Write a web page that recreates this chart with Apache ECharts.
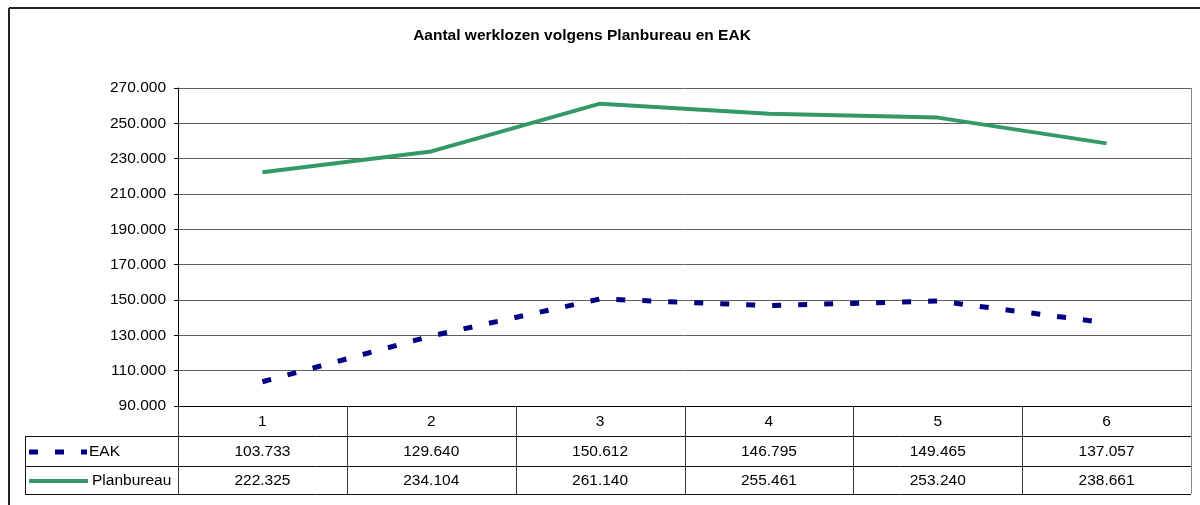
<!DOCTYPE html>
<html>
<head>
<meta charset="utf-8">
<script src="https://cdn.jsdelivr.net/npm/echarts@6/dist/echarts.min.js"></script>
<style>
  html, body { margin: 0; padding: 0; background: #fff; }
  #chart { width: 1200px; height: 505px; }
</style>
</head>
<body>
<div id="chart"></div>
<script>
// data
const categories = ["1", "2", "3", "4", "5", "6"];
const eak = [103733, 129640, 150612, 146795, 149465, 137057];
const planbureau = [222325, 234104, 261140, 255461, 253240, 238661];

const FONT = "Liberation Sans, Arial, sans-serif";
const FS = 15.5;
const fmt = v => {
  let s = String(Math.round(v));
  return s.replace(/\B(?=(\d{3})+(?!\d))/g, ".");
};

// layout of plot + data table
const gridL = 178, gridR = 1191, gridT = 88, gridB = 406;
const rowH = [406, 436, 466, 494];
const tableL = 25;

const chart = echarts.init(document.getElementById("chart"));

const graphics = [];
// outer chart border (left + top)
graphics.push({ type: "line", shape: { x1: 9, y1: 8, x2: 1200, y2: 8 }, style: { stroke: "#222", lineWidth: 2 } });
graphics.push({ type: "line", shape: { x1: 9, y1: 8, x2: 9, y2: 505 }, style: { stroke: "#222", lineWidth: 2 } });
// plot area right border
graphics.push({ type: "line", shape: { x1: gridR + 0.5, y1: gridT, x2: gridR + 0.5, y2: rowH[3] }, style: { stroke: "#888", lineWidth: 1 } });
// table horizontal lines
for (let i = 1; i < rowH.length; i++) {
  graphics.push({ type: "line", shape: { x1: tableL, y1: rowH[i] + 0.5, x2: gridR, y2: rowH[i] + 0.5 }, style: { stroke: "#111", lineWidth: 1 } });
}
graphics.push({ type: "line", shape: { x1: tableL + 0.5, y1: rowH[1], x2: tableL + 0.5, y2: rowH[3] }, style: { stroke: "#111", lineWidth: 1 } });
// column dividers
const colW = (gridR - gridL) / categories.length;
for (let i = 0; i < categories.length; i++) {
  const x = Math.round(gridL + colW * i) + 0.5;
  graphics.push({ type: "line", shape: { x1: x, y1: rowH[0], x2: x, y2: rowH[3] }, style: { stroke: "#333", lineWidth: 1 } });
}
// legend keys in table
graphics.push({ type: "line", shape: { x1: 29, y1: 452, x2: 87, y2: 452 }, style: { stroke: "#000080", lineWidth: 5, lineDash: [9, 17] } });
graphics.push({ type: "text", x: 89, y: 452, style: { text: "EAK", font: FS + "px " + FONT, fill: "#000", align: "left", verticalAlign: "middle" } });
graphics.push({ type: "line", shape: { x1: 29, y1: 481, x2: 88, y2: 481 }, style: { stroke: "#339966", lineWidth: 4 } });
graphics.push({ type: "text", x: 92, y: 481, style: { text: "Planbureau", font: FS + "px " + FONT, fill: "#000", align: "left", verticalAlign: "middle" } });

const tableAxis = (values, offset) => ({
  type: "category",
  data: categories,
  position: "bottom",
  offset: offset,
  axisLine: { show: false },
  axisTick: { show: false },
  axisLabel: {
    margin: 8,
    color: "#000",
    fontFamily: FONT,
    fontSize: FS,
    formatter: (v, i) => fmt(values[i])
  }
});

chart.setOption({
  animation: false,
  title: {
    text: "Aantal werklozen volgens Planbureau en EAK",
    left: 577,
    top: 23,
    textAlign: "center",
    textStyle: { fontFamily: FONT, fontSize: 15.5, fontWeight: "bold", color: "#000" }
  },
  grid: { left: gridL, right: 1200 - gridR, top: gridT, bottom: 505 - gridB },
  xAxis: [
    {
      type: "category",
      data: categories,
      boundaryGap: true,
      axisLine: { lineStyle: { color: "#000", width: 1 } },
      axisTick: { show: false },
      splitLine: { show: false },
      axisLabel: { margin: 8, color: "#000", fontFamily: FONT, fontSize: FS }
    },
    tableAxis(eak, 30),
    tableAxis(planbureau, 59)
  ],
  yAxis: {
    type: "value",
    min: 90000,
    max: 270000,
    interval: 20000,
    axisLine: { show: true, lineStyle: { color: "#000" } },
    axisTick: { show: true, length: 4, lineStyle: { color: "#000" } },
    axisLabel: { margin: 12, color: "#000", fontFamily: FONT, fontSize: FS, formatter: v => fmt(v) },
    splitLine: { show: true, lineStyle: { color: "#606060", width: 1 } }
  },
  series: [
    {
      name: "EAK",
      type: "line",
      data: eak,
      symbol: "none",
      lineStyle: { color: "#000080", width: 5, type: [9, 17], cap: "butt" },
      z: 3
    },
    {
      name: "Planbureau",
      type: "line",
      data: planbureau,
      symbol: "none",
      lineStyle: { color: "#339966", width: 4 },
      z: 3
    }
  ],
  graphic: graphics
});
</script>
</body>
</html>
